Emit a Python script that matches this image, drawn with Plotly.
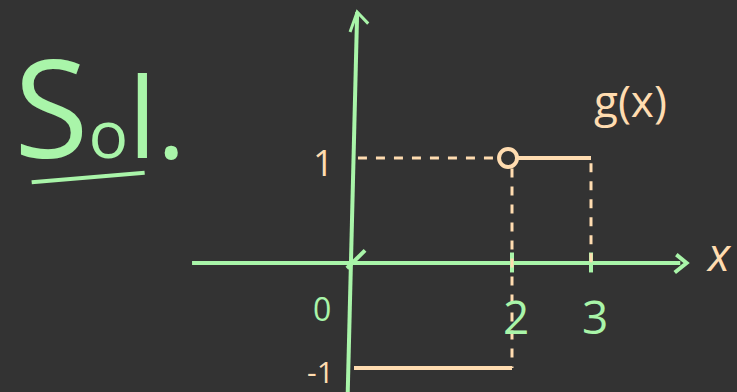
import plotly.graph_objects as go

GREEN = "#a9f5a9"
PEACH = "#ffdcb0"
BG = "#333333"

# axes of the sketch (sketch units)
x_axis_x = [-2.05, 4.13]
x_axis_y = [0.0, 0.0]
x_arrow_x = [4.08, 4.21, 4.06]
x_arrow_y = [0.08, 0.0, -0.09]
y_axis_x = [0.04, -0.08]
y_axis_y = [2.39, -1.25]
y_arrow_x = [-0.05, 0.04, 0.18]
y_arrow_y = [2.2, 2.39, 2.28]
origin_mark_x = [-0.09, 0.14]
origin_mark_y = [-0.05, 0.12]

# tick positions and labels
x_ticks = [2, 3]
x_tick_labels = ["2", "3"]
y_ticks = [1, -1]
y_tick_labels = ["1", "-1"]

# g(x): 1 on (2,3], -1 on [0,2)
upper_x = [2, 3]
upper_y = [1, 1]
lower_x = [0, 2]
lower_y = [-1, -1]
open_x = [1.95]
open_y = [1]

# dashed guides
guide1_x = [0.05, 1.8]
guide1_y = [1, 1]
guide2_x = [2, 2]
guide2_y = [0.9, -1.0]
guide3_x = [3, 3]
guide3_y = [0.95, 0.0]

# underline of "Sol."
under_x = [-4.08, -2.65]
under_y = [0.77, 0.86]

fig = go.Figure()


def seg(x, y, color, dash="solid", width=4):
    fig.add_trace(go.Scatter(x=x, y=y, mode="lines",
                             line=dict(color=color, width=width, dash=dash),
                             hoverinfo="skip", showlegend=False))


seg(x_axis_x, x_axis_y, GREEN)
seg(x_arrow_x, x_arrow_y, GREEN)
seg(y_axis_x, y_axis_y, GREEN)
seg(y_arrow_x, y_arrow_y, GREEN, width=3)
seg(origin_mark_x, origin_mark_y, GREEN)
for t in x_ticks:
    seg([t, t], [0.1, -0.09], GREEN)

seg(guide1_x, guide1_y, PEACH, dash="dash", width=3)
seg(guide2_x, guide2_y, PEACH, dash="dash", width=3)
seg(guide3_x, guide3_y, PEACH, dash="dash", width=3)
seg(upper_x, upper_y, PEACH)
seg(lower_x, lower_y, PEACH)
fig.add_trace(go.Scatter(x=open_x, y=open_y, mode="markers",
                         marker=dict(size=18, color=BG, line=dict(color=PEACH, width=4)),
                         hoverinfo="skip", showlegend=False))
seg(under_x, under_y, GREEN)

font = "Open Sans"
for t, lab in zip(x_ticks, x_tick_labels):
    fig.add_annotation(x=t + 0.05, y=-0.5, text=lab, showarrow=False,
                       font=dict(family=font, size=46, color=GREEN))
fig.add_annotation(x=-0.4, y=-0.43, text="0", showarrow=False,
                   font=dict(family=font, size=32, color=GREEN))
fig.add_annotation(x=-0.39, y=0.96, text=y_tick_labels[0], showarrow=False,
                   font=dict(family=font, size=36, color=PEACH))
fig.add_annotation(x=-0.42, y=-1.03, text=y_tick_labels[1], showarrow=False,
                   font=dict(family=font, size=30, color=PEACH))
fig.add_annotation(x=3.5, y=1.55, text="g(x)", showarrow=False,
                   font=dict(family=font, size=44, color=PEACH))
fig.add_annotation(x=4.62, y=0.1, text="<i>x</i>", showarrow=False,
                   font=dict(family=font, size=46, color=PEACH))
fig.add_annotation(x=-3.22, y=1.5,
                   text="S<span style='font-size:66px'>o</span><span style='font-size:112px'>l.</span>",
                   showarrow=False,
                   font=dict(family=font, size=136, color=GREEN))

fig.update_layout(
    width=737, height=392,
    margin=dict(l=0, r=0, t=0, b=0),
    paper_bgcolor=BG, plot_bgcolor=BG,
    xaxis=dict(range=[-354 / 79, (737 - 354) / 79], visible=False, fixedrange=True),
    yaxis=dict(range=[-129 / 105, 263 / 105], visible=False, fixedrange=True),
)

fig.write_html("out.html", config={"displayModeBar": False},
               post_script="document.body.style.margin='0';document.body.style.background='#333333';")
